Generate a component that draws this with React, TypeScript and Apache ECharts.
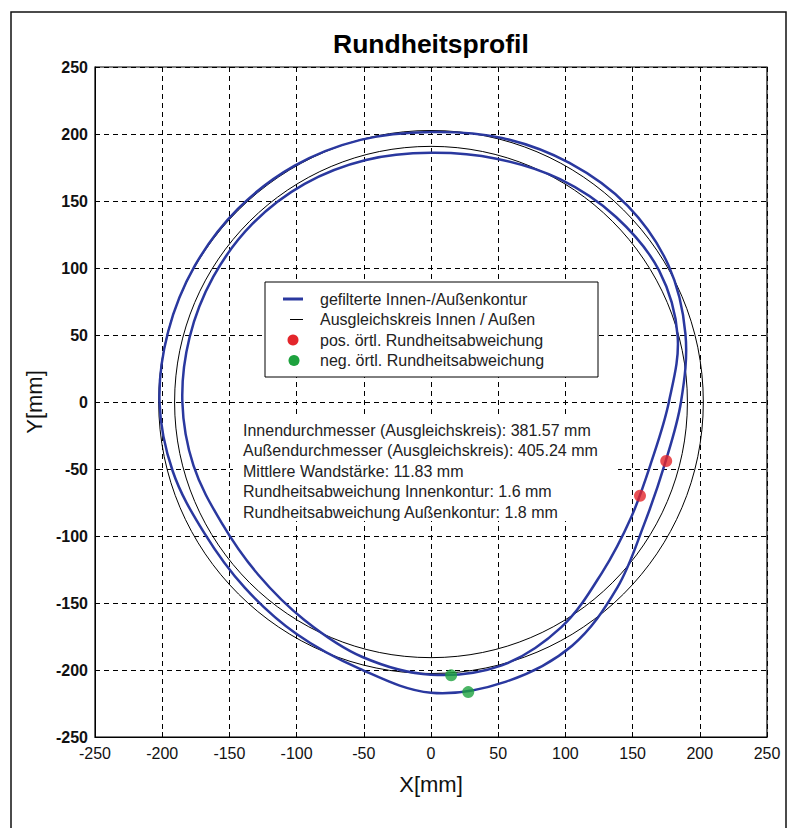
import React, { useEffect, useRef } from "react";
import * as echarts from "echarts";

// ---- data ----
const contourAngles = [0, 15, 30, 45, 60, 75, 90, 105, 120, 135, 150, 165, 180, 195, 210, 225, 240, 255, 270, 285, 300, 315, 330, 345];
const outerContourR = [186, 196, 204, 207, 206, 204, 201.5, 202.5, 203.5, 203.5, 203, 202.5, 202, 199, 195, 196, 200, 206, 217, 216, 210, 196, 183, 180];
const innerContourR = [177, 190, 196, 195, 192, 188, 186, 187, 188, 188, 187, 186, 185, 183, 180, 182, 188, 197, 203.5, 203.5, 194, 180, 172, 170];
const fitDiameters = [381.57, 405.24];
const fitCenter = [0, 0];
const posDeviation = [[175, -44], [155.5, -70]];
const negDeviation = [[15, -204], [27.7, -216.5]];
const axisMin = -250;
const axisMax = 250;
const axisStep = 50;
const legendLabels = [
  "gefilterte Innen-/Außenkontur",
  "Ausgleichskreis Innen / Außen",
  "pos. örtl. Rundheitsabweichung",
  "neg. örtl. Rundheitsabweichung",
];
const infoLines = [
  "Innendurchmesser (Ausgleichskreis): 381.57 mm",
  "Außendurchmesser (Ausgleichskreis): 405.24 mm",
  "Mittlere Wandstärke: 11.83 mm",
  "Rundheitsabweichung Innenkontur: 1.6 mm",
  "Rundheitsabweichung Außenkontur: 1.8 mm",
];

const FONT = '"Liberation Sans", Arial, sans-serif';
const BLUE = "#2a389f";
const RED = "#e3262b";
const GREEN = "#1ea23e";

function polarToXY(radii: number[]): number[][] {
  return contourAngles.map((a, i) => {
    const t = (a * Math.PI) / 180;
    return [radii[i] * Math.cos(t), radii[i] * Math.sin(t)];
  });
}

function contourSeries(name: string, radii: number[]) {
  const pts = polarToXY(radii);
  return {
    name,
    type: "custom",
    coordinateSystem: "cartesian2d",
    encode: { x: 0, y: 1 },
    data: pts,
    renderItem: (params: any, api: any) => {
      if (params.dataIndex !== 0) return null;
      const points = pts.map((p) => api.coord(p));
      return {
        type: "polygon",
        shape: { points, smooth: 0.35 },
        style: { fill: "none", stroke: BLUE, lineWidth: 2.5, lineJoin: "round" },
      };
    },
    z: 4,
  };
}

export default function App() {
  const ref = useRef<HTMLDivElement>(null);
  useEffect(() => {
    if (!ref.current) return;
    const chart = echarts.init(ref.current, undefined, { renderer: "svg" });
    const axisCommon = {
      type: "value",
      min: axisMin,
      max: axisMax,
      interval: axisStep,
      axisLine: { show: true, onZero: false, lineStyle: { color: "#000", width: 1 } },
      axisTick: { show: true, inside: true, length: 5, lineStyle: { color: "#000" } },
      splitLine: { show: true, lineStyle: { color: "#000", type: [5, 4], width: 1 } },
    };
    chart.setOption({
      animation: false,
      backgroundColor: "#fff",
      title: {
        text: "Rundheitsprofil",
        left: 333,
        top: 30,
        padding: 0,
        textStyle: { fontFamily: FONT, fontSize: 26.5, fontWeight: "bold", color: "#000" },
      },
      grid: {
        left: 95,
        right: 30,
        top: 67,
        bottom: 91,
        show: true,
        borderColor: "#000",
        borderWidth: 1.2,
        backgroundColor: "#fff",
      },
      xAxis: {
        ...axisCommon,
        name: "X[mm]",
        nameLocation: "middle",
        nameGap: 36,
        nameTextStyle: { fontFamily: FONT, fontSize: 22, color: "#111" },
        axisLabel: { margin: 8, fontFamily: FONT, fontSize: 16, color: "#111" },
      },
      yAxis: {
        ...axisCommon,
        name: "Y[mm]",
        nameLocation: "middle",
        nameGap: 49,
        nameTextStyle: { fontFamily: FONT, fontSize: 22, color: "#111" },
        axisLabel: { margin: 7, fontFamily: FONT, fontSize: 16, fontWeight: "bold", color: "#111" },
      },
      series: [
        {
          name: legendLabels[1],
          type: "custom",
          coordinateSystem: "cartesian2d",
          encode: { x: 0, y: 1 },
          data: fitDiameters.map((d) => [fitCenter[0], fitCenter[1], d / 2]),
          renderItem: (params: any, api: any) => {
            const c = api.coord([api.value(0), api.value(1)]);
            const s = api.size([api.value(2), api.value(2)]);
            return {
              type: "ellipse",
              shape: { cx: c[0], cy: c[1], rx: s[0], ry: s[1] },
              style: { fill: "none", stroke: "#000", lineWidth: 1 },
            };
          },
          z: 3,
        },
        contourSeries(legendLabels[0] + " (außen)", outerContourR),
        contourSeries(legendLabels[0] + " (innen)", innerContourR),
        {
          name: legendLabels[2],
          type: "scatter",
          data: posDeviation,
          symbolSize: 12,
          itemStyle: { color: RED },
          z: 6,
        },
        {
          name: legendLabels[3],
          type: "scatter",
          data: negDeviation,
          symbolSize: 12,
          itemStyle: { color: GREEN },
          z: 6,
        },
      ],
      graphic: [
        {
          type: "rect",
          z: 1,
          shape: { x: 11, y: 12, width: 775, height: 900 },
          style: { fill: "none", stroke: "#111", lineWidth: 1.5 },
          silent: true,
        },
        {
          type: "group",
          z: 50,
          children: [
            {
              type: "rect",
              z: 50,
              shape: { x: 265, y: 282, width: 333, height: 95 },
              style: { fill: "#fff", stroke: "#000", lineWidth: 1 },
            },
            { type: "line", z: 51, shape: { x1: 283, y1: 299, x2: 303, y2: 299 }, style: { stroke: BLUE, lineWidth: 3 } },
            { type: "line", z: 51, shape: { x1: 290, y1: 319.5, x2: 303, y2: 319.5 }, style: { stroke: "#000", lineWidth: 1 } },
            { type: "circle", z: 51, shape: { cx: 293, cy: 340, r: 5.5 }, style: { fill: RED } },
            { type: "circle", z: 51, shape: { cx: 294, cy: 360.5, r: 5.5 }, style: { fill: GREEN } },
            {
              type: "text",
              z: 51,
              x: 320,
              y: 288.75,
              style: {
                text: legendLabels.join("\n"),
                font: `16px ${FONT}`,
                lineHeight: 20.5,
                fill: "#222",
                verticalAlign: "top",
              },
            },
          ],
        },
        {
          type: "group",
          z: 50,
          children: [
            {
              type: "rect",
              z: 50,
              shape: { x: 233, y: 416, width: 385, height: 105 },
              style: { fill: "#fff", stroke: "none" },
            },
            {
              type: "text",
              z: 51,
              x: 243,
              y: 419.75,
              style: {
                text: infoLines.join("\n"),
                font: `16px ${FONT}`,
                lineHeight: 20.5,
                fill: "#222",
                verticalAlign: "top",
              },
            },
          ],
        },
      ],
    });
    return () => chart.dispose();
  }, []);
  return (
    <div
      ref={ref}
      style={{ position: "fixed", left: 0, top: 0, width: 797, height: 828, background: "#fff" }}
    />
  );
}
